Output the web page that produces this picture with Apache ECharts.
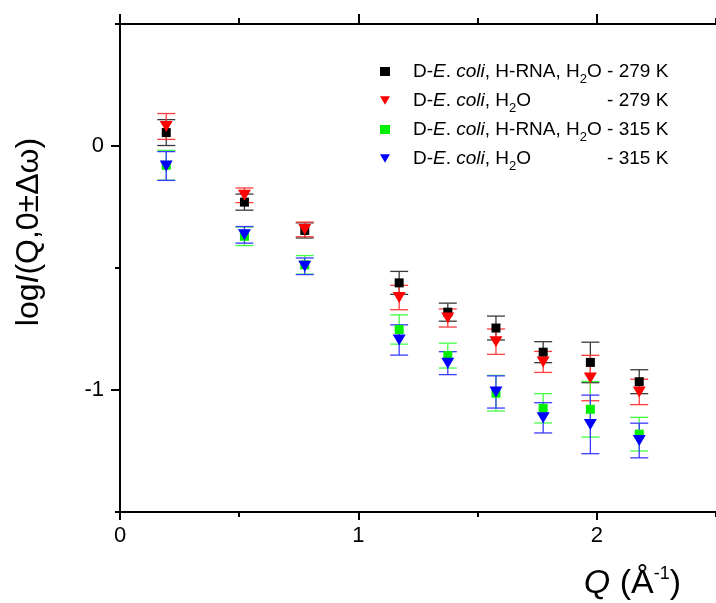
<!DOCTYPE html>
<html>
<head>
<meta charset="utf-8">
<script src="https://cdn.jsdelivr.net/npm/echarts@6/dist/echarts.min.js"></script>
<style>
html,body{margin:0;padding:0;background:#fff;}
#chart{width:716px;height:603px;}
</style>
</head>
<body>
<div id="chart"></div>
<script>
// ---- data ----
const Q = [0.194, 0.522, 0.775, 1.171, 1.375, 1.577, 1.775, 1.973, 2.178];

const rna279 = [0.055, -0.230, -0.346, -0.561, -0.681, -0.746, -0.845, -0.887, -0.966];
const rna279Err = [0.053, 0.033, 0.031, 0.047, 0.037, 0.049, 0.043, 0.083, 0.049];

const h2o279 = [0.080, -0.202, -0.342, -0.621, -0.705, -0.802, -0.885, -0.951, -1.008];
const h2o279Err = [0.053, 0.030, 0.030, 0.050, 0.037, 0.052, 0.043, 0.093, 0.052];

const rna315 = [-0.079, -0.370, -0.487, -0.752, -0.859, -1.013, -1.075, -1.079, -1.181];
const rna315Err = [0.061, 0.038, 0.038, 0.060, 0.051, 0.073, 0.060, 0.114, 0.069];

const h2o315 = [-0.082, -0.364, -0.493, -0.795, -0.890, -1.008, -1.114, -1.141, -1.207];
const h2o315Err = [0.059, 0.034, 0.034, 0.062, 0.047, 0.066, 0.062, 0.120, 0.071];

const xMajorTicks = [0, 1, 2];
const xMinorTicks = [0.5, 1.5, 2.5];
const yMajorTicks = [0, -1];
const yMinorTicks = [0.5, -0.5, -1.5];

const seriesNames = [
  'D-E. coli, H-RNA, H2O - 279 K',
  'D-E. coli, H2O - 279 K',
  'D-E. coli, H-RNA, H2O - 315 K',
  'D-E. coli, H2O - 315 K'
];
const seriesTemps = ['279 K', '279 K', '315 K', '315 K'];
const seriesRNA = [true, false, true, false];
// ---------------------------------------

const FONT = '"Liberation Sans", Arial, Helvetica, sans-serif';
const LEG_FS = 19;
const DOWN_TRI = 'path://M0,0L12,0L6,10Z';

function measure(txt, size) {
  const c = document.createElement('canvas').getContext('2d');
  c.font = size + 'px "Liberation Sans"';
  return c.measureText(txt).width;
}
const spacerW = measure('H-RNA, ', LEG_FS);

const seriesSets = [
  {vals: rna279, err: rna279Err, color: '#000000', bar: '#3a3a3a', symbol: 'rect', size: 9, rot: 0, icon: 'rect'},
  {vals: h2o279, err: h2o279Err, color: '#ff0000', bar: '#ff3b3b', symbol: 'triangle', size: [13, 11], rot: 180, icon: DOWN_TRI},
  {vals: rna315, err: rna315Err, color: '#00ee00', bar: '#44ff44', symbol: 'rect', size: 9, rot: 0, icon: 'rect'},
  {vals: h2o315, err: h2o315Err, color: '#0000ff', bar: '#3b3bff', symbol: 'triangle', size: [13, 11], rot: 180, icon: DOWN_TRI}
];

const series = [];
seriesSets.forEach(function (s, k) {
  const errData = Q.map(function (q, i) { return [q, s.vals[i], s.err[i]]; });
  series.push({
    type: 'custom',
    name: seriesNames[k] + ' err',
    xAxisIndex: 0, yAxisIndex: 0,
    data: errData,
    silent: true,
    renderItem: function (params, api) {
      const x = api.value(0), y = api.value(1), e = api.value(2);
      const p1 = api.coord([x, y + e]);
      const p2 = api.coord([x, y - e]);
      const hw = 9;
      const st = {stroke: s.bar, lineWidth: 1.3};
      return {
        type: 'group',
        children: [
          {type: 'line', shape: {x1: p1[0], y1: p1[1], x2: p2[0], y2: p2[1]}, style: st},
          {type: 'line', shape: {x1: p1[0] - hw, y1: p1[1], x2: p1[0] + hw, y2: p1[1]}, style: st},
          {type: 'line', shape: {x1: p2[0] - hw, y1: p2[1], x2: p2[0] + hw, y2: p2[1]}, style: st}
        ]
      };
    }
  });
  series.push({
    type: 'scatter',
    name: seriesNames[k],
    xAxisIndex: 0, yAxisIndex: 0,
    data: Q.map(function (q, i) { return [q, s.vals[i]]; }),
    symbol: s.symbol,
    symbolSize: s.size,
    symbolRotate: s.rot,
    itemStyle: {color: s.color, opacity: 1},
    emphasis: {disabled: true}
  });
});

const richLegend = {
  g: {fontSize: LEG_FS, fontFamily: FONT, color: '#000', lineHeight: 22, width: 18, verticalAlign: 'middle'},
  n: {fontSize: LEG_FS, fontFamily: FONT, color: '#000', lineHeight: 22, verticalAlign: 'middle'},
  i: {fontSize: LEG_FS, fontFamily: FONT, fontStyle: 'italic', color: '#000', lineHeight: 22, verticalAlign: 'middle'},
  s: {fontSize: 13, fontFamily: FONT, color: '#000', lineHeight: 12, padding: [16, 0, 0, 0], verticalAlign: 'middle'},
  sp: {fontSize: LEG_FS, fontFamily: FONT, color: '#000', lineHeight: 22, width: spacerW, verticalAlign: 'middle'}
};

function legendLabel(name) {
  const k = seriesNames.indexOf(name);
  const t = seriesTemps[k];
  if (seriesRNA[k]) {
    return '{g| }{n|D-}{i|E}{n|. }{i|coli}{n|, H-RNA, H}{s|2}{n|O - ' + t + '}';
  }
  return '{g| }{n|D-}{i|E}{n|. }{i|coli}{n|, H}{s|2}{n|O}{sp| }{n| - ' + t + '}';
}

const axisLineStyle = {color: '#000', width: 2};
const common = {type: 'value', min: 0, max: 2.5, splitLine: {show: false}};
const commonY = {type: 'value', min: -1.5, max: 0.5, splitLine: {show: false}};

const option = {
  animation: false,
  backgroundColor: '#ffffff',
  grid: {left: 120, top: 24, width: 602, height: 488, containLabel: false},
  legend: {
    orient: 'vertical',
    left: 380,
    top: 57,
    padding: 0,
    itemGap: 0,
    itemWidth: 10,
    itemHeight: 9,
    selectedMode: false,
    data: seriesNames.map(function (nm, k) {
      return {name: nm, icon: seriesSets[k].icon, itemStyle: {color: seriesSets[k].color}};
    }),
    formatter: legendLabel,
    textStyle: {rich: richLegend, fontSize: LEG_FS, fontFamily: FONT, color: '#000'}
  },
  xAxis: [
    Object.assign({}, common, {
      position: 'bottom',
      axisLine: {show: true, onZero: false, lineStyle: axisLineStyle},
      axisTick: {show: true, inside: false, length: 8, lineStyle: {width: 2, color: '#000'}, customValues: xMajorTicks},
      axisLabel: {show: true, margin: 13, fontSize: 22, fontFamily: FONT, color: '#000', customValues: xMajorTicks}
    }),
    Object.assign({}, common, {
      position: 'bottom',
      axisLine: {show: false, onZero: false},
      axisTick: {show: true, inside: false, length: 5, lineStyle: {width: 2, color: '#000'}, customValues: xMinorTicks},
      axisLabel: {show: false}
    }),
    Object.assign({}, common, {
      position: 'top',
      axisLine: {show: true, onZero: false, lineStyle: axisLineStyle},
      axisTick: {show: true, inside: false, length: 10, lineStyle: {width: 2, color: '#000'}, customValues: xMajorTicks},
      axisLabel: {show: false}
    }),
    Object.assign({}, common, {
      position: 'top',
      axisLine: {show: false, onZero: false},
      axisTick: {show: true, inside: false, length: 6, lineStyle: {width: 2, color: '#000'}, customValues: xMinorTicks},
      axisLabel: {show: false}
    })
  ],
  yAxis: [
    Object.assign({}, commonY, {
      position: 'left',
      axisLine: {show: true, onZero: false, lineStyle: axisLineStyle},
      axisTick: {show: true, inside: false, length: 9, lineStyle: {width: 2, color: '#000'}, customValues: yMajorTicks},
      axisLabel: {show: true, margin: 16, fontSize: 22, fontFamily: FONT, color: '#000', customValues: yMajorTicks}
    }),
    Object.assign({}, commonY, {
      position: 'left',
      axisLine: {show: false, onZero: false},
      axisTick: {show: true, inside: false, length: 5, lineStyle: {width: 2, color: '#000'}, customValues: yMinorTicks},
      axisLabel: {show: false}
    })
  ],
  graphic: [
    {
      type: 'text',
      x: 29, y: 232,
      rotation: Math.PI / 2,
      style: {
        text: '{n|log}{i|I}{n|(Q,0±Δω)}',
        align: 'center', verticalAlign: 'middle',
        rich: {
          n: {fontSize: 32, fontFamily: FONT, fill: '#000', lineHeight: 34},
          i: {fontSize: 32, fontFamily: FONT, fontStyle: 'italic', fill: '#000', lineHeight: 34}
        }
      }
    },
    {
      type: 'text',
      x: 681, y: 584,
      style: {
        text: '{i|Q} {n|(Å}{sup|-1}{n|)}',
        align: 'right', verticalAlign: 'middle',
        fontSize: 34, fontFamily: FONT,
        rich: {
          n: {fontSize: 34, fontFamily: FONT, fill: '#000', lineHeight: 36, verticalAlign: 'middle'},
          i: {fontSize: 34, fontFamily: FONT, fontStyle: 'italic', fill: '#000', lineHeight: 36, verticalAlign: 'middle'},
          sup: {fontSize: 18, fontFamily: FONT, fill: '#000', lineHeight: 18, padding: [0, 0, 20, 0], verticalAlign: 'middle'}
        }
      }
    }
  ],
  series: series
};

const chart = echarts.init(document.getElementById('chart'), null, {renderer: 'canvas'});
chart.setOption(option);
</script>
</body>
</html>
